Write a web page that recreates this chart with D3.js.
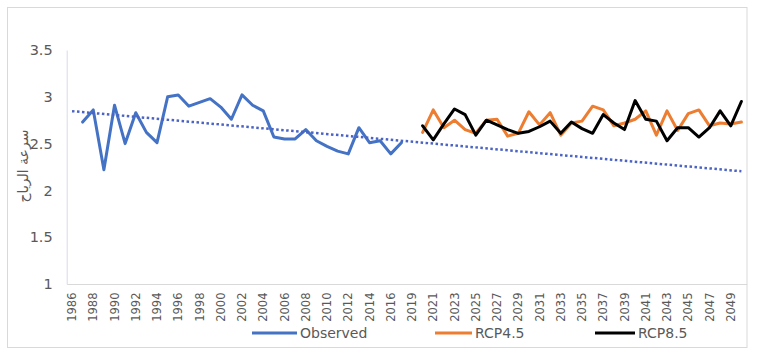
<!DOCTYPE html>
<html>
<head>
<meta charset="utf-8">
<script src="https://cdn.jsdelivr.net/npm/d3@7"></script>
<style>
  html, body { margin: 0; padding: 0; background: #ffffff; }
  svg { display: block; }
</style>
</head>
<body>
<svg id="chart" width="760" height="354"></svg>
<script>
// Category axis: observed years, then the projection years (2018 is not in the table)
const years = [
  1986, 1987, 1988, 1989, 1990, 1991, 1992, 1993, 1994, 1995, 1996, 1997, 1998, 1999, 2000, 2001,
  2002, 2003, 2004, 2005, 2006, 2007, 2008, 2009, 2010, 2011, 2012, 2013, 2014, 2015, 2016, 2017,
  2019, 2020, 2021, 2022, 2023, 2024, 2025, 2026, 2027, 2028, 2029, 2030, 2031, 2032, 2033, 2034,
  2035, 2036, 2037, 2038, 2039, 2040, 2041, 2042, 2043, 2044, 2045, 2046, 2047, 2048, 2049, 2050
];

// Labels shown under the axis (every second category)
const tickLabels = [
  1986, 1988, 1990, 1992, 1994, 1996, 1998, 2000, 2002, 2004, 2006, 2008, 2010, 2012, 2014, 2016,
  2019, 2021, 2023, 2025, 2027, 2029, 2031, 2033, 2035, 2037, 2039, 2041, 2043, 2045, 2047, 2049
];

const yTicks = [1, 1.5, 2, 2.5, 3, 3.5];

// Observed wind speed, 1986-2017 (no value for 1986)
const observedYears = [
  1986, 1987, 1988, 1989, 1990, 1991, 1992, 1993, 1994, 1995, 1996, 1997, 1998, 1999, 2000, 2001,
  2002, 2003, 2004, 2005, 2006, 2007, 2008, 2009, 2010, 2011, 2012, 2013, 2014, 2015, 2016, 2017
];
const observed = [
  null, 2.73, 2.86, 2.22, 2.91, 2.50, 2.83, 2.62, 2.51, 3.00, 3.02, 2.90, 2.94, 2.98, 2.89, 2.76,
  3.02, 2.91, 2.85, 2.57, 2.55, 2.55, 2.65, 2.53, 2.47, 2.42, 2.39, 2.67, 2.51, 2.53, 2.39, 2.51
];

// Scenario projections, 2020-2050
const projectionYears = [
  2020, 2021, 2022, 2023, 2024, 2025, 2026, 2027, 2028, 2029, 2030, 2031, 2032, 2033, 2034, 2035,
  2036, 2037, 2038, 2039, 2040, 2041, 2042, 2043, 2044, 2045, 2046, 2047, 2048, 2049, 2050
];
const rcp45 = [
  2.62, 2.86, 2.67, 2.75, 2.65, 2.61, 2.75, 2.76, 2.58, 2.61, 2.84, 2.70, 2.83, 2.59, 2.72, 2.74,
  2.90, 2.86, 2.69, 2.72, 2.76, 2.85, 2.59, 2.85, 2.64, 2.82, 2.86, 2.69, 2.72, 2.71, 2.73
];
const rcp85 = [
  2.69, 2.54, 2.71, 2.87, 2.81, 2.59, 2.75, 2.70, 2.65, 2.61, 2.63, 2.68, 2.74, 2.61, 2.73, 2.66,
  2.61, 2.81, 2.72, 2.65, 2.96, 2.76, 2.74, 2.53, 2.67, 2.67, 2.57, 2.67, 2.85, 2.69, 2.95
];

const seriesNames = ["Observed", "RCP4.5", "RCP8.5"];
const seriesColors = ["#4472C4", "#ED7D31", "#000000"];
const axisTitle = "سرعة الرياح";

// ---------------------------------------------------------------
const svg = d3.select("#chart");
const textColor = "#595959";
const font = "'DejaVu Sans', sans-serif";

// chart frame
svg.append("rect")
  .attr("x", 7.5).attr("y", 7.5)
  .attr("width", 739.5).attr("height", 340)
  .attr("fill", "#ffffff")
  .attr("stroke", "#d9d9d9")
  .attr("stroke-width", 1);

const plot = { left: 66.7, right: 746.7, top: 50, bottom: 284 };

const x = d3.scaleBand().domain(years).range([plot.left, plot.right]).paddingInner(0).paddingOuter(0);
const cx = yr => x(yr) + x.bandwidth() / 2;
const y = d3.scaleLinear().domain([1, 3.5]).range([plot.bottom, plot.top]);

// y axis (labels only, with a faint axis line)
const yAxis = svg.append("g")
  .attr("transform", `translate(${plot.left},0)`)
  .call(d3.axisLeft(y).tickValues(yTicks).tickSize(0).tickPadding(14).tickFormat(d3.format("~g")));
yAxis.select(".domain").attr("stroke", "#d6dbe6").attr("stroke-width", 1);
yAxis.selectAll("text")
  .attr("fill", textColor)
  .style("font-family", font)
  .style("font-size", "14.5px");

// x axis with vertical labels
const xAxis = svg.append("g")
  .attr("transform", `translate(0,${plot.bottom})`)
  .call(d3.axisBottom(x).tickValues(tickLabels).tickSize(0));
xAxis.select(".domain").attr("stroke", "#d9d9d9").attr("stroke-width", 1);
xAxis.selectAll("text")
  .attr("transform", "rotate(-90)")
  .attr("x", -8.5)
  .attr("y", 0)
  .attr("dy", "0.36em")
  .style("text-anchor", "end")
  .attr("fill", textColor)
  .style("font-family", font)
  .style("font-size", "11.5px");

// y axis title
svg.append("text")
  .attr("transform", `translate(23,166) rotate(-90)`)
  .attr("text-anchor", "middle")
  .attr("dy", "0.35em")
  .attr("fill", textColor)
  .style("font-family", font)
  .style("font-size", "14px")
  .text(axisTitle);

// series
const line = d3.line()
  .defined(d => d.v != null)
  .x(d => cx(d.yr))
  .y(d => y(d.v));

const obsData = observedYears.map((yr, i) => ({ yr, v: observed[i] }));
const r45Data = projectionYears.map((yr, i) => ({ yr, v: rcp45[i] }));
const r85Data = projectionYears.map((yr, i) => ({ yr, v: rcp85[i] }));

const drawSeries = (data, color) =>
  svg.append("path")
    .datum(data)
    .attr("fill", "none")
    .attr("stroke", color)
    .attr("stroke-width", 3)
    .attr("stroke-linejoin", "round")
    .attr("stroke-linecap", "round")
    .attr("d", line);

drawSeries(obsData, seriesColors[0]);

// linear trend of the observed series, fitted on category position
// and extended across the whole category axis
const idx = yr => years.indexOf(yr);
const pts = obsData.filter(d => d.v != null).map(d => [idx(d.yr), d.v]);
const mx = d3.mean(pts, p => p[0]);
const my = d3.mean(pts, p => p[1]);
const slope = d3.sum(pts, p => (p[0] - mx) * (p[1] - my)) / d3.sum(pts, p => (p[0] - mx) ** 2);
const intercept = my - slope * mx;
const trend = [years[0], years[years.length - 1]].map(yr => ({ yr, v: intercept + slope * idx(yr) }));

drawSeries(r45Data, seriesColors[1]);
drawSeries(r85Data, seriesColors[2]);

svg.append("path")
  .datum(trend)
  .attr("fill", "none")
  .attr("stroke", "#4a63c4")
  .attr("stroke-width", 2.5)
  .attr("stroke-dasharray", "2.5,2.5")
  .attr("d", d3.line().x(d => cx(d.yr)).y(d => y(d.v)));

// legend
const legendItems = [
  { name: seriesNames[0], color: seriesColors[0], x0: 252, x1: 297 },
  { name: seriesNames[1], color: seriesColors[1], x0: 435, x1: 472 },
  { name: seriesNames[2], color: seriesColors[2], x0: 595, x1: 635 }
];
const legend = svg.append("g");
legendItems.forEach(item => {
  legend.append("line")
    .attr("x1", item.x0).attr("x2", item.x1)
    .attr("y1", 333).attr("y2", 333)
    .attr("stroke", item.color)
    .attr("stroke-width", 3);
  legend.append("text")
    .attr("x", item.x1 + 3)
    .attr("y", 333)
    .attr("dy", "0.36em")
    .attr("fill", textColor)
    .style("font-family", font)
    .style("font-size", "14px")
    .text(item.name);
});
</script>
</body>
</html>
